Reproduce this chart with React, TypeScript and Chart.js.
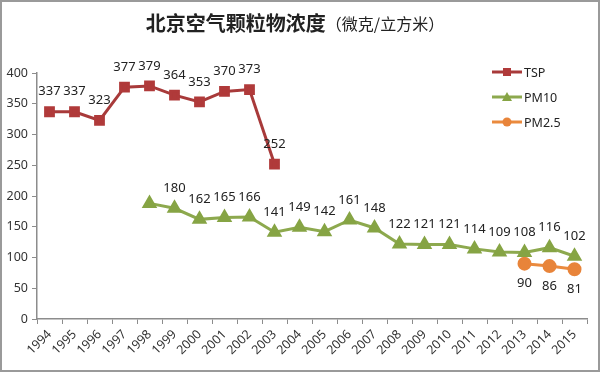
import React, { useEffect, useRef } from "react";
import { Chart, registerables } from "chart.js";

Chart.register(...registerables);

const years = ["1994","1995","1996","1997","1998","1999","2000","2001","2002","2003","2004","2005","2006","2007","2008","2009","2010","2011","2012","2013","2014","2015"];
const tsp: (number | null)[] = [337,337,323,377,379,364,353,370,373,252,null,null,null,null,null,null,null,null,null,null,null,null];
const pm10: (number | null)[] = [null,null,null,null,188,180,162,165,166,141,149,142,161,148,122,121,121,114,109,108,116,102];
const pm25: (number | null)[] = [null,null,null,null,null,null,null,null,null,null,null,null,null,null,null,null,null,null,null,90,86,81];
const hiddenLabels: string[] = ["PM10:1998"];
const yTicks = [0,50,100,150,200,250,300,350,400];

const titleMain = "北京空气颗粒物浓度";
const titleSub = "（微克/立方米）";

const FONT = "'Noto Sans', 'Noto Sans CJK SC', sans-serif";

const extras = {
  id: "extras",
  beforeDraw(chart: any) {
    const ctx = chart.ctx;
    ctx.save();
    ctx.fillStyle = "#ffffff";
    ctx.fillRect(0, 0, chart.width, chart.height);
    ctx.strokeStyle = "#9a9a9a";
    ctx.lineWidth = 2;
    ctx.strokeRect(1, 1, chart.width - 2, chart.height - 2);
    // title
    ctx.fillStyle = "#222";
    ctx.textBaseline = "middle";
    const f1 = "bold 20px 'Noto Sans CJK SC', sans-serif";
    const f2 = "16px 'Noto Sans CJK SC', sans-serif";
    ctx.font = f1;
    const w1 = ctx.measureText(titleMain).width;
    ctx.font = f2;
    const w2 = ctx.measureText(titleSub).width;
    const x0 = 295 - (w1 + w2) / 2;
    ctx.font = f1;
    ctx.textAlign = "left";
    ctx.fillText(titleMain, x0, 23);
    ctx.font = f2;
    ctx.fillText(titleSub, x0 + w1, 24);
    ctx.restore();
  },
  afterDatasetsDraw(chart: any) {
    const ctx = chart.ctx;
    ctx.save();
    ctx.font = "13px " + FONT;
    ctx.fillStyle = "#222";
    ctx.textAlign = "center";
    ctx.textBaseline = "middle";
    chart.data.datasets.forEach((ds: any, i: number) => {
      const meta = chart.getDatasetMeta(i);
      meta.data.forEach((pt: any, j: number) => {
        const v = ds.data[j];
        if (v == null) return;
        if (hiddenLabels.includes(ds.label + ":" + years[j])) return;
        const dy = ds.labelBelow ? 20 : -20;
        ctx.fillText(String(v), pt.x, pt.y + dy);
      });
    });
    // legend
    const items = chart.data.datasets;
    items.forEach((ds: any, i: number) => {
      const y = 72 + i * 25;
      const x1 = 492, x2 = 522;
      ctx.strokeStyle = ds.borderColor;
      ctx.lineWidth = 3;
      ctx.beginPath();
      ctx.moveTo(x1, y);
      ctx.lineTo(x2, y);
      ctx.stroke();
      ctx.fillStyle = ds.pointBackgroundColor;
      const cx = (x1 + x2) / 2;
      ctx.beginPath();
      if (ds.pointStyle === "rect") {
        ctx.rect(cx - 4, y - 4, 8, 8);
      } else if (ds.pointStyle === "triangle") {
        ctx.moveTo(cx, y - 5);
        ctx.lineTo(cx + 5, y + 4);
        ctx.lineTo(cx - 5, y + 4);
        ctx.closePath();
      } else {
        ctx.arc(cx, y, 4.5, 0, Math.PI * 2);
      }
      ctx.fill();
      ctx.fillStyle = "#222";
      ctx.font = "12.5px " + FONT;
      ctx.textAlign = "left";
      ctx.fillText(ds.label, x2 + 2, y + 1);
    });
    ctx.restore();
  },
};

export default function App() {
  const ref = useRef<HTMLCanvasElement>(null);
  useEffect(() => {
    document.body.style.margin = "0";
    const chart = new Chart(ref.current!, {
      type: "line",
      data: {
        labels: years,
        datasets: [
          {
            label: "TSP",
            data: tsp,
            borderColor: "#A83A3A",
            backgroundColor: "#B03A3A",
            pointBackgroundColor: "#B03A3A",
            pointBorderColor: "#B03A3A",
            pointStyle: "rect",
            pointRadius: 5.5,
            borderWidth: 3,
            labelBelow: false,
          } as any,
          {
            label: "PM10",
            data: pm10,
            borderColor: "#8DA94E",
            backgroundColor: "#86A444",
            pointBackgroundColor: "#86A444",
            pointBorderColor: "#86A444",
            pointStyle: "triangle",
            pointRadius: 6,
            borderWidth: 3,
            labelBelow: false,
          } as any,
          {
            label: "PM2.5",
            data: pm25,
            borderColor: "#EA8A3E",
            backgroundColor: "#E8843A",
            pointBackgroundColor: "#E8843A",
            pointBorderColor: "#E8843A",
            pointStyle: "circle",
            pointRadius: 5.5,
            borderWidth: 3,
            labelBelow: true,
          } as any,
        ],
      },
      options: {
        animation: false,
        responsive: false,
        clip: false as any,
        spanGaps: false,
        layout: { padding: { top: 73, right: 13, left: 0, bottom: 0 } },
        plugins: { legend: { display: false }, title: { display: false }, tooltip: { enabled: false } },
        scales: {
          x: {
            offset: true,
            grid: { offset: true, drawOnChartArea: false, drawTicks: true, tickLength: 5, color: "#8c8c8c" },
            border: { color: "#8c8c8c", width: 1.5 },
            ticks: { maxRotation: 45, minRotation: 45, autoSkip: false, color: "#333", font: { family: FONT, size: 12.5 }, padding: 3 },
            afterFit: (s: any) => { s.height = 53; },
          },
          y: {
            min: 0,
            max: 400,
            afterBuildTicks: (s: any) => { s.ticks = yTicks.map((v) => ({ value: v })); },
            grid: { drawOnChartArea: false, drawTicks: true, tickLength: 5, color: "#8c8c8c" },
            border: { color: "#8c8c8c", width: 1.5 },
            ticks: { color: "#333", font: { family: FONT, size: 12.5 }, padding: 4 },
            afterFit: (s: any) => { s.width = 37; },
          },
        },
      },
      plugins: [extras],
    });
    return () => chart.destroy();
  }, []);
  return (
    <div style={{ position: "fixed", left: 0, top: 0, width: 600, height: 372 }}>
      <canvas ref={ref} width={600} height={372} style={{ width: 600, height: 372, display: "block" }} />
    </div>
  );
}
